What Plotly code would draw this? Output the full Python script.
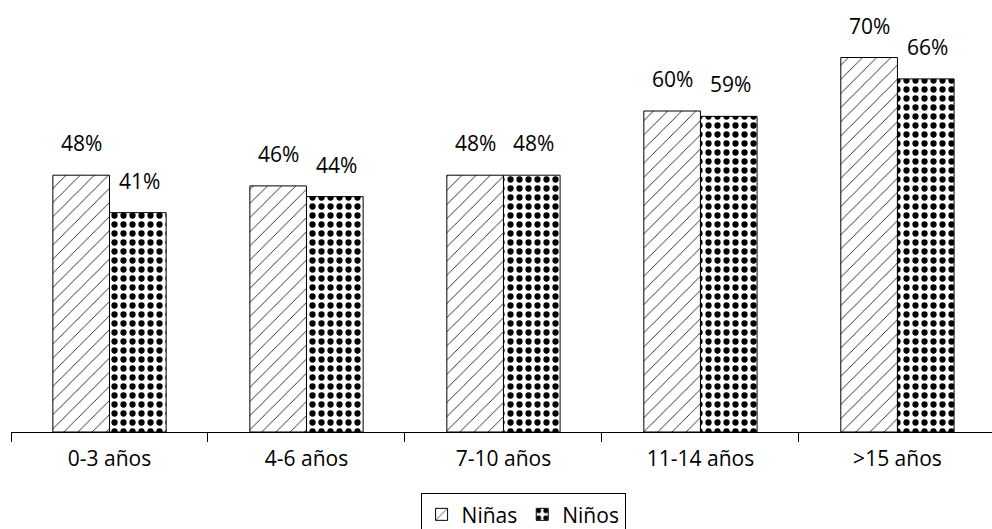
import plotly.graph_objects as go

categories = ["0-3 años", "4-6 años", "7-10 años", "11-14 años", ">15 años"]
ninas = [48, 46, 48, 60, 70]
ninos = [41, 44, 48, 59, 66]
series_names = ["Niñas", "Niños"]

FONT = dict(family="Open Sans, Liberation Sans, sans-serif", size=21, color="black")

fig = go.Figure()
fig.add_trace(go.Bar(
    x=categories, y=ninas, name=series_names[0],
    marker=dict(color="white", line=dict(color="black", width=1),
                pattern=dict(shape="/", fgcolor="black", bgcolor="white", fgopacity=1,
                             fillmode="replace", size=10, solidity=0.08)),
))
fig.add_trace(go.Bar(
    x=categories, y=ninos, name=series_names[1],
    marker=dict(color="white", line=dict(color="black", width=1),
                pattern=dict(shape=".", fgcolor="black", bgcolor="white", fgopacity=1,
                             fillmode="replace", size=9, solidity=0.38)),
))

annotations = []
for vals, shift in ((ninas, -28), (ninos, 30)):
    for c, v in zip(categories, vals):
        annotations.append(dict(x=c, y=v, xref="x", yref="y", text=f"{v}%", showarrow=False,
                                xshift=shift, yshift=32, font=FONT))

fig.update_layout(
    width=992, height=529,
    margin=dict(l=11, r=0, t=4, b=97, autoexpand=False),
    paper_bgcolor="white", plot_bgcolor="white",
    barmode="group", bargap=0.425, bargroupgap=0,
    font=FONT,
    showlegend=True,
    legend=dict(orientation="h", x=0.522, xanchor="center", y=-0.143, yanchor="top",
                bordercolor="black", borderwidth=1, font=FONT, itemwidth=30,
                tracegroupgap=0),
    annotations=annotations,
    xaxis=dict(showline=True, linecolor="black", linewidth=1, ticks="outside",
               tickson="boundaries", ticklen=9, tickcolor="black", tickwidth=1,
               showgrid=False, range=[-0.5, 4.48], tickfont=FONT, ticklabelstandoff=8),
    yaxis=dict(range=[0, 80], visible=False, showgrid=False),
)

fig.write_html("out.html")
